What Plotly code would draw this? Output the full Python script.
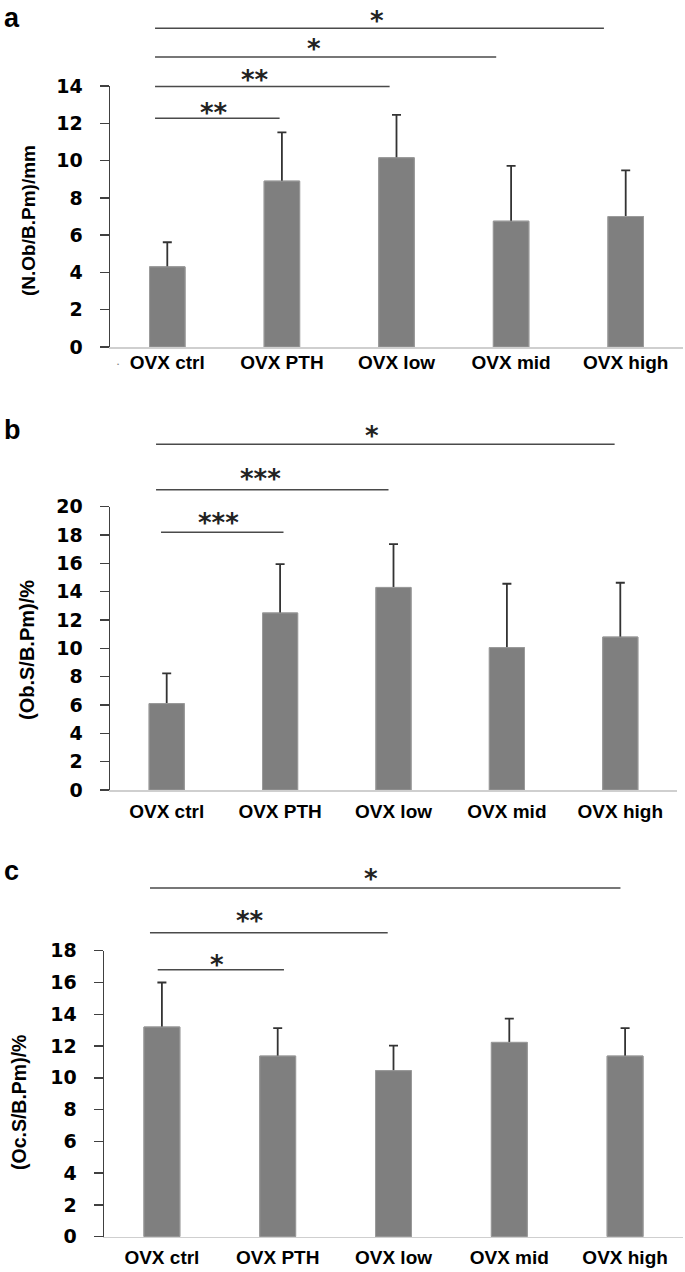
import plotly.graph_objects as go

# ---------------- data ----------------
categories = ["OVX ctrl", "OVX PTH", "OVX low", "OVX mid", "OVX high"]

nob_mean = [4.3, 8.9, 10.15, 6.75, 7.0]      # (N.Ob/B.Pm)/mm
nob_sd = [1.32, 2.61, 2.3, 2.97, 2.47]

obs_mean = [6.1, 12.5, 14.3, 10.05, 10.8]    # (Ob.S/B.Pm)/%
obs_sd = [2.13, 3.45, 3.06, 4.51, 3.83]

ocs_mean = [13.2, 11.37, 10.45, 12.23, 11.37]  # (Oc.S/B.Pm)/%
ocs_sd = [2.8, 1.76, 1.57, 1.49, 1.76]

# significance brackets: (from category pos, to category pos, line level, label, label pos, label level)
sig_a = [(-0.107, 3.81, 17.1, "*", 1.83, 17.8),
         (-0.107, 2.87, 15.55, "*", 1.28, 16.3),
         (-0.107, 1.94, 13.97, "**", 0.765, 14.65),
         (-0.107, 0.98, 12.27, "**", 0.41, 12.86)]
sig_b = [(-0.094, 3.95, 24.4, "*", 1.81, 25.4),
         (-0.094, 1.956, 21.2, "***", 0.83, 22.4),
         (-0.05, 1.03, 18.2, "***", 0.46, 19.3)]
sig_c = [(-0.103, 3.96, 21.94, "*", 1.81, 22.87),
         (-0.103, 1.95, 19.13, "**", 0.765, 20.25),
         (-0.036, 1.054, 16.8, "*", 0.48, 17.46)]

ytitles = ["(N.Ob/B.Pm)/mm", "(Ob.S/B.Pm)/%", "(Oc.S/B.Pm)/%"]
ymax = [14, 20, 18]
panel_letters = ["a", "b", "c"]

# ---------------- layout geometry (pixels) ----------------
W, H = 685, 1272
panels = [
    dict(x0=110, x1=683, ytop=86, ybot=347, title_x=28, title_y=221, title_size=19,
         letter_y=1, letter_anchor="top", lab_standoff=-2),
    dict(x0=110, x1=677, ytop=506.7, ybot=790, title_x=27, title_y=650, title_size=20,
         letter_y=430, letter_anchor="middle", lab_standoff=4),
    dict(x0=104, x1=683, ytop=950.7, ybot=1236.7, title_x=19, title_y=1103, title_size=19.5,
         letter_y=871, letter_anchor="middle", lab_standoff=3),
]
means = [nob_mean, obs_mean, ocs_mean]
sds = [nob_sd, obs_sd, ocs_sd]
sigs = [sig_a, sig_b, sig_c]

fig = go.Figure()
shapes = []
annotations = []
ncat = len(categories)

for i in range(3):
    n = "" if i == 0 else str(i + 1)
    xa, ya = "x" + n, "y" + n
    p = panels[i]
    # bar with error bars, then same bar on top to hide the lower half of the error bar
    fig.add_trace(go.Bar(
        x=categories, y=means[i], xaxis=xa, yaxis=ya, width=0.31,
        marker=dict(color="#7f7f7f", line=dict(color="#9b9b9b", width=1)),
        error_y=dict(type="data", array=sds[i], symmetric=True,
                     color="#333333", thickness=1.8, width=4.5),
        hoverinfo="skip"))
    fig.add_trace(go.Bar(
        x=categories, y=means[i], xaxis=xa, yaxis=ya, width=0.31,
        marker=dict(color="#7f7f7f", line=dict(color="#9b9b9b", width=1)),
        hoverinfo="skip"))

    fig.layout["xaxis" + n] = dict(
        domain=[p["x0"] / W, p["x1"] / W], anchor=ya, type="category",
        range=[-0.5, ncat - 0.5], showline=True, linecolor="#cfcfcf", linewidth=1.5,
        ticks="", showgrid=False, zeroline=False, automargin=False,
        ticklabelstandoff=p["lab_standoff"],
        tickfont=dict(family="Liberation Sans", size=19, color="#000000", weight="bold"))
    fig.layout["yaxis" + n] = dict(
        domain=[1 - p["ybot"] / H, 1 - p["ytop"] / H], anchor=xa,
        range=[0, ymax[i]], dtick=2, tick0=0, showline=True, linecolor="#404040",
        linewidth=1.5, ticks="outside", ticklen=9, tickwidth=1.5, tickcolor="#404040",
        showgrid=False, zeroline=False, automargin=False, ticklabelstandoff=13,
        tickfont=dict(family="DejaVu Sans", size=19, color="#000000", weight="bold"))

    # significance brackets
    for (a0, a1, lvl, lab, lp, ly) in sigs[i]:
        shapes.append(dict(
            type="line", xref=xa + " domain", yref=ya + " domain",
            x0=(a0 + 0.5) / ncat, x1=(a1 + 0.5) / ncat,
            y0=lvl / ymax[i], y1=lvl / ymax[i],
            line=dict(color="#4a4a4a", width=1.5)))
        annotations.append(dict(
            text=lab, xref=xa + " domain", yref=ya + " domain",
            x=(lp + 0.5) / ncat, y=ly / ymax[i], xanchor="center", yanchor="middle",
            yshift=-6, showarrow=False,
            font=dict(family="DejaVu Sans", size=26, color="#222222", weight="bold")))

    # y-axis title
    annotations.append(dict(
        text=ytitles[i], xref="paper", yref="paper",
        x=p["title_x"] / W, y=1 - p["title_y"] / H, xanchor="center", yanchor="middle",
        textangle=-90, showarrow=False,
        font=dict(family="Liberation Sans", size=p["title_size"], color="#000000", weight="bold")))
    # panel letter
    annotations.append(dict(
        text=panel_letters[i], xref="paper", yref="paper",
        x=2 / W, y=1 - p["letter_y"] / H, xanchor="left", yanchor=p["letter_anchor"],
        showarrow=False,
        font=dict(family="Liberation Sans", size=27, color="#000000", weight="bold")))

# small stray dot before the first label in panel a
annotations.append(dict(text="•", xref="paper", yref="paper", x=118 / W, y=1 - 364 / H,
                        xanchor="center", yanchor="middle", showarrow=False,
                        font=dict(family="Liberation Sans", size=6, color="#888888")))

fig.update_layout(
    template="none",
    width=W, height=H, margin=dict(l=0, r=0, t=0, b=0, pad=0),
    paper_bgcolor="white", plot_bgcolor="white",
    barmode="overlay", showlegend=False,
    shapes=shapes, annotations=annotations)

# remove the default page margin so the figure fills the window exactly
fig.write_html("out.html",
               config={"displayModeBar": False, "staticPlot": True},
               post_script="document.body.style.margin='0px';document.body.style.overflow='hidden';")
